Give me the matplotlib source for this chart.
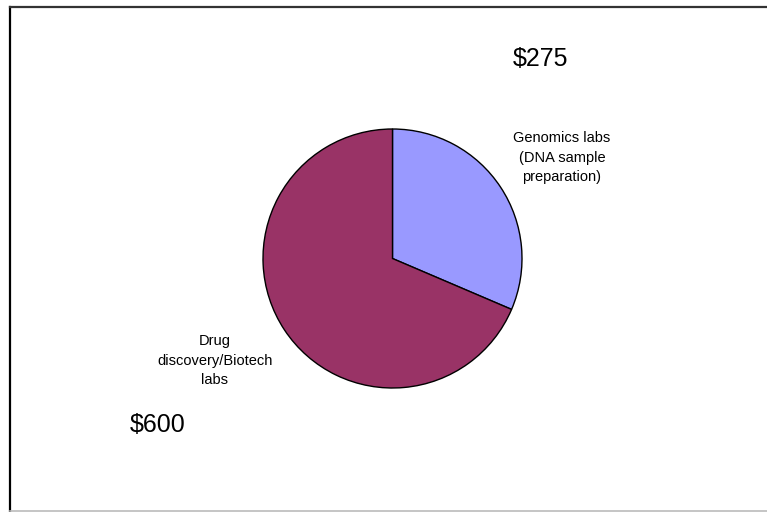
import matplotlib
matplotlib.use("Agg")
import matplotlib.pyplot as plt

# valeurs
segments = ["Genomics labs\n(DNA sample\npreparation)", "Drug\ndiscovery/Biotech\nlabs"]
valeurs = [275, 600]
etiquettes = ["$275", "$600"]
couleurs = ["#9999FF", "#993366"]

W, H = 767, 512
plt.rcParams['font.family'] = ['Liberation Sans', 'DejaVu Sans']

fig = plt.figure(figsize=(W / 100, H / 100), dpi=100)
ax = fig.add_axes([0, 0, 1, 1])

# camembert, sens horaire depuis le haut
ax.pie(valeurs, colors=couleurs, startangle=90, counterclock=False,
       center=(392.5, H - 258.5), radius=129.5, frame=True,
       wedgeprops=dict(edgecolor="black", linewidth=1.0))
ax.set_xlim(0, W)
ax.set_ylim(0, H)
ax.set_aspect("equal")
ax.axis("off")

# cadre (gauche/haut noir, bas gris)
ax.plot([10, 10], [1, H - 7], color="black", lw=1.6)
ax.plot([10, W], [H - 7, H - 7], color="#333333", lw=1.6)
ax.plot([10, W], [1, 1], color="#bbbbbb", lw=1.2)

def px(x, y):
    return x / W, 1 - y / H

# textes
fig.text(*px(562, 158), segments[0], ha="center", va="center",
         multialignment="center", fontsize=10.5, linespacing=1.5)
fig.text(*px(215, 361), segments[1], ha="center", va="center",
         multialignment="center", fontsize=10.5, linespacing=1.5)
fig.text(*px(541, 59), etiquettes[0], ha="center", va="center", fontsize=18)
fig.text(*px(158, 425), etiquettes[1], ha="center", va="center", fontsize=18)

fig.savefig("out.png", dpi=100)
